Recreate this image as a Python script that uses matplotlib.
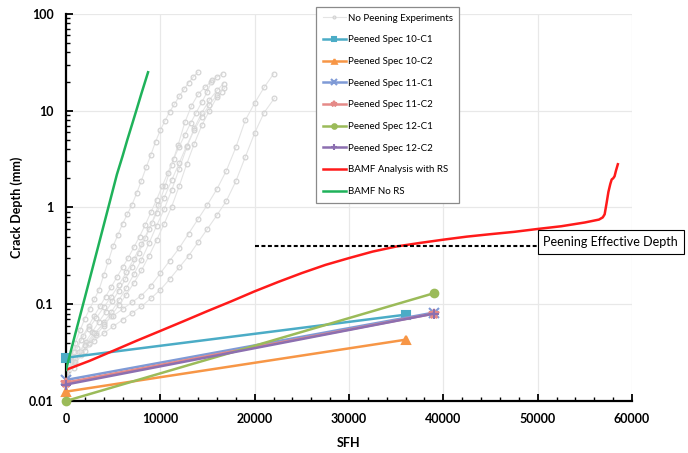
import matplotlib
matplotlib.use("Agg")
import matplotlib.pyplot as plt
from matplotlib.ticker import FixedLocator, FuncFormatter, LogLocator, MultipleLocator, NullFormatter

plt.rcParams["font.family"] = ["Lato", "DejaVu Sans"]

# --- no peening experiments (SFH, crack depth mm) ---
exp_a_x = [0, 500, 1000, 1500, 2000, 2500, 3000, 3500, 4000, 4500, 5000, 5500, 6000, 6500,
           7000, 7500, 8000, 8500, 9000, 9500, 10000, 10500, 11000, 11500, 12000, 12500,
           13000, 13500, 14000]
exp_a_y = [0.020, 0.028, 0.040, 0.054, 0.071, 0.089, 0.112, 0.141, 0.20, 0.28, 0.40, 0.52,
           0.68, 0.85, 1.07, 1.41, 1.9, 2.6, 3.5, 4.8, 6.3, 7.9, 9.8, 11.7, 14.1, 16.6,
           19.5, 22.4, 25.1]
exp_b_x = [0, 700, 1400, 2100, 2800, 3500, 4200, 4900, 5600, 6300, 7000, 7700, 8400, 9100,
           9800, 10500, 11200, 11900, 12600, 13300, 14000, 14700, 15400, 16000, 16600]
exp_b_y = [0.018, 0.024, 0.032, 0.041, 0.052, 0.066, 0.083, 0.107, 0.138, 0.182, 0.245,
           0.339, 0.479, 0.692, 1.05, 1.66, 2.75, 4.47, 7.59, 11.2, 14.8, 17.4, 20.0, 22.4, 24.0]
exp_c_x = [0, 600, 1200, 1800, 2400, 3000, 3600, 4200, 4800, 5400, 6000, 6600, 7200, 7800,
           8400, 9000, 9600, 10200, 10800, 11400, 12000, 12600, 13200, 13800, 14400, 15000, 15500]
exp_c_y = [0.019, 0.026, 0.035, 0.047, 0.060, 0.076, 0.095, 0.120, 0.151, 0.191, 0.240,
           0.302, 0.389, 0.501, 0.661, 0.891, 1.20, 1.66, 2.29, 3.16, 4.27, 5.62, 7.41, 9.55,
           12.3, 15.8, 20.9]
exp_d_x = [0, 800, 1600, 2400, 3200, 4000, 4800, 5600, 6400, 7200, 8000, 8800, 9600, 10400,
           11200, 12000, 12800, 13600, 14400, 15200, 16000, 16700]
exp_d_y = [0.016, 0.022, 0.030, 0.040, 0.051, 0.065, 0.083, 0.110, 0.148, 0.204, 0.288,
           0.427, 0.646, 0.955, 1.51, 2.51, 4.17, 6.61, 9.55, 12.9, 16.2, 19.1]
exp_g_x = [0, 800, 1600, 2400, 3200, 4000, 4800, 5600, 6400, 7200, 8000, 8800, 9600, 10400,
           11200, 12000, 12800, 13600, 14400, 15200, 16000, 16500]
exp_g_y = [0.020, 0.025, 0.032, 0.039, 0.048, 0.060, 0.076, 0.098, 0.126, 0.166, 0.224,
           0.316, 0.457, 0.676, 1.02, 1.66, 2.82, 4.57, 7.08, 10.0, 13.8, 15.8]
exp_h_x = [0, 800, 1600, 2400, 3200, 4000, 4800, 5600, 6400, 7200, 8000, 8800, 9600, 10400,
           11200, 12000, 12800, 13600, 14400, 15200, 16000, 16800]
exp_h_y = [0.022, 0.032, 0.043, 0.056, 0.072, 0.093, 0.120, 0.158, 0.214, 0.295, 0.417,
           0.603, 0.871, 1.26, 1.91, 2.88, 4.37, 6.31, 8.71, 11.5, 14.5, 17.0]
exp_e_x = [0, 1000, 2000, 3000, 4000, 5000, 6000, 7000, 8000, 9000, 10000, 11000, 12000,
           13000, 14000, 15000, 16000, 17000, 18000, 19000, 20000, 21000, 22000]
exp_e_y = [0.020, 0.028, 0.038, 0.050, 0.063, 0.076, 0.089, 0.105, 0.123, 0.155, 0.209,
           0.282, 0.380, 0.537, 0.759, 1.07, 1.55, 2.40, 4.17, 7.94, 12.0, 17.4, 24.0]
exp_f_x = [0, 1000, 2000, 3000, 4000, 5000, 6000, 7000, 8000, 9000, 10000, 11000, 12000,
           13000, 14000, 15000, 16000, 17000, 18000, 19000, 20000, 21000, 22100]
exp_f_y = [0.018, 0.025, 0.033, 0.042, 0.050, 0.059, 0.069, 0.081, 0.095, 0.115, 0.141,
           0.182, 0.240, 0.316, 0.437, 0.603, 0.832, 1.17, 1.86, 3.31, 5.89, 9.55, 13.5]

experiments = [(exp_a_x, exp_a_y), (exp_b_x, exp_b_y), (exp_c_x, exp_c_y), (exp_d_x, exp_d_y),
               (exp_g_x, exp_g_y), (exp_h_x, exp_h_y), (exp_e_x, exp_e_y), (exp_f_x, exp_f_y)]

# --- peened specimens: start and end points ---
peened_labels = ["Peened Spec 10-C1", "Peened Spec 10-C2", "Peened Spec 11-C1",
                 "Peened Spec 11-C2", "Peened Spec 12-C1", "Peened Spec 12-C2"]
peened_x = [[0, 36000], [0, 36000], [0, 39000], [0, 39000], [0, 39000], [0, 39000]]
peened_y = [[0.028, 0.078], [0.0125, 0.043], [0.0165, 0.082], [0.0155, 0.080],
            [0.010, 0.13], [0.0148, 0.080]]
peened_colors = ["#4bacc6", "#f79646", "#7f9ad6", "#e58a88", "#9bbb59", "#8c6fb0"]
peened_markers = ["s", "^", "x", "*", "o", "+"]

# --- BAMF analyses ---
bamf_rs_x = [0, 2500, 5000, 7500, 10000, 12500, 15000, 17500, 20000, 22500, 25000, 27500,
             30000, 32500, 35000, 37500, 40000, 42500, 45000, 47500, 50000, 52500, 55000,
             56500, 56900, 57100, 57300, 57500, 57700, 57850, 58000, 58150, 58300, 58500]
bamf_rs_y = [0.021, 0.026, 0.033, 0.042, 0.053, 0.067, 0.085, 0.107, 0.136, 0.170, 0.21,
             0.255, 0.30, 0.35, 0.395, 0.43, 0.465, 0.50, 0.53, 0.56, 0.60, 0.64, 0.70,
             0.75, 0.79, 0.85, 1.1, 1.45, 1.75, 1.95, 2.0, 2.1, 2.4, 2.8]
bamf_nors_x = [0, 1000, 2000, 3000, 4000, 4700, 5400, 6000, 6500, 7000, 7500, 8000, 8700]
bamf_nors_y = [0.021, 0.050, 0.117, 0.277, 0.656, 1.2, 2.2, 3.4, 5.0, 7.2, 10.4, 15.1, 25]

peening_depth = 0.4

fig = plt.figure(figsize=(6.88, 4.53), dpi=100)
ax = fig.add_axes([0.0959, 0.1148, 0.8227, 0.8543])

for i, (xs, ys) in enumerate(experiments):
    ax.plot(xs, ys, color="#e4e4e4", lw=0.8, marker="o", ms=3.4, mfc="none",
            mec="#d4d4d4", mew=0.9, zorder=2,
            label="No Peening Experiments" if i == 0 else None)

for lab, xs, ys, c, m in zip(peened_labels, peened_x, peened_y, peened_colors, peened_markers):
    ms = 7 if m in ("x", "*", "+") else 5.5
    ax.plot(xs, ys, color=c, lw=1.8, marker=m, ms=ms, mew=1.5, label=lab,
            zorder=3, clip_on=False)

ax.plot(bamf_rs_x, bamf_rs_y, color="#ff1a1a", lw=1.8, label="BAMF Analysis with RS", zorder=4)
ax.plot(bamf_nors_x, bamf_nors_y, color="#1fb25a", lw=1.8, label="BAMF No RS", zorder=4)

ax.plot([20000, 49900], [peening_depth, peening_depth], color="black", lw=1.5,
        ls=(0, (1.9, 1.2)), zorder=5)
ax.text(50600, 0.44, "Peening Effective Depth", fontsize=9, ha="left", va="center",
        clip_on=False, zorder=6,
        bbox=dict(boxstyle="square,pad=0.45", fc="white", ec="black", lw=0.8))

ax.set_yscale("log")
ax.set_xlim(0, 60000)
ax.set_ylim(0.01, 100)
ax.xaxis.set_major_locator(MultipleLocator(10000))
ax.xaxis.set_minor_locator(MultipleLocator(2000))
ax.yaxis.set_major_locator(FixedLocator([0.01, 0.1, 1, 10, 100]))
ax.yaxis.set_minor_locator(LogLocator(base=10, subs=range(2, 10)))
ax.yaxis.set_minor_formatter(NullFormatter())
ax.yaxis.set_major_formatter(FuncFormatter(lambda v, p: f"{v:g}"))
ax.xaxis.set_major_formatter(FuncFormatter(lambda v, p: f"{int(v)}"))

ax.tick_params(which="major", direction="in", length=5, width=1.3, labelsize=9, pad=9)
ax.tick_params(which="minor", direction="in", length=3, width=1.0)
for lab in ax.get_xticklabels() + ax.get_yticklabels():
    lab.set_fontweight("bold")

for s in ("top", "right"):
    ax.spines[s].set_visible(False)
for s in ("left", "bottom"):
    ax.spines[s].set_linewidth(1.6)

ax.grid(True, which="major", color="#e8e8e8", lw=0.9, zorder=0)
ax.set_axisbelow(True)

ax.set_xlabel("SFH", fontsize=9, fontweight="bold")
ax.set_ylabel("Crack Depth (mm)", fontsize=9, fontweight="bold")
ax.xaxis.set_label_coords(0.5, -0.093)
ax.yaxis.set_label_coords(-0.076, 0.5)

leg = ax.legend(loc="upper left", bbox_to_anchor=(316 / 688, 1 - 7 / 453),
                bbox_transform=fig.transFigure, fontsize=7, labelspacing=1.3,
                handlelength=2.4, handletextpad=0.15, borderpad=0.7, borderaxespad=0,
                markerscale=0.6, fancybox=False, framealpha=1, edgecolor="#8a8a8a")
leg.get_frame().set_linewidth(0.9)

fig.savefig("out.png", dpi=100)
